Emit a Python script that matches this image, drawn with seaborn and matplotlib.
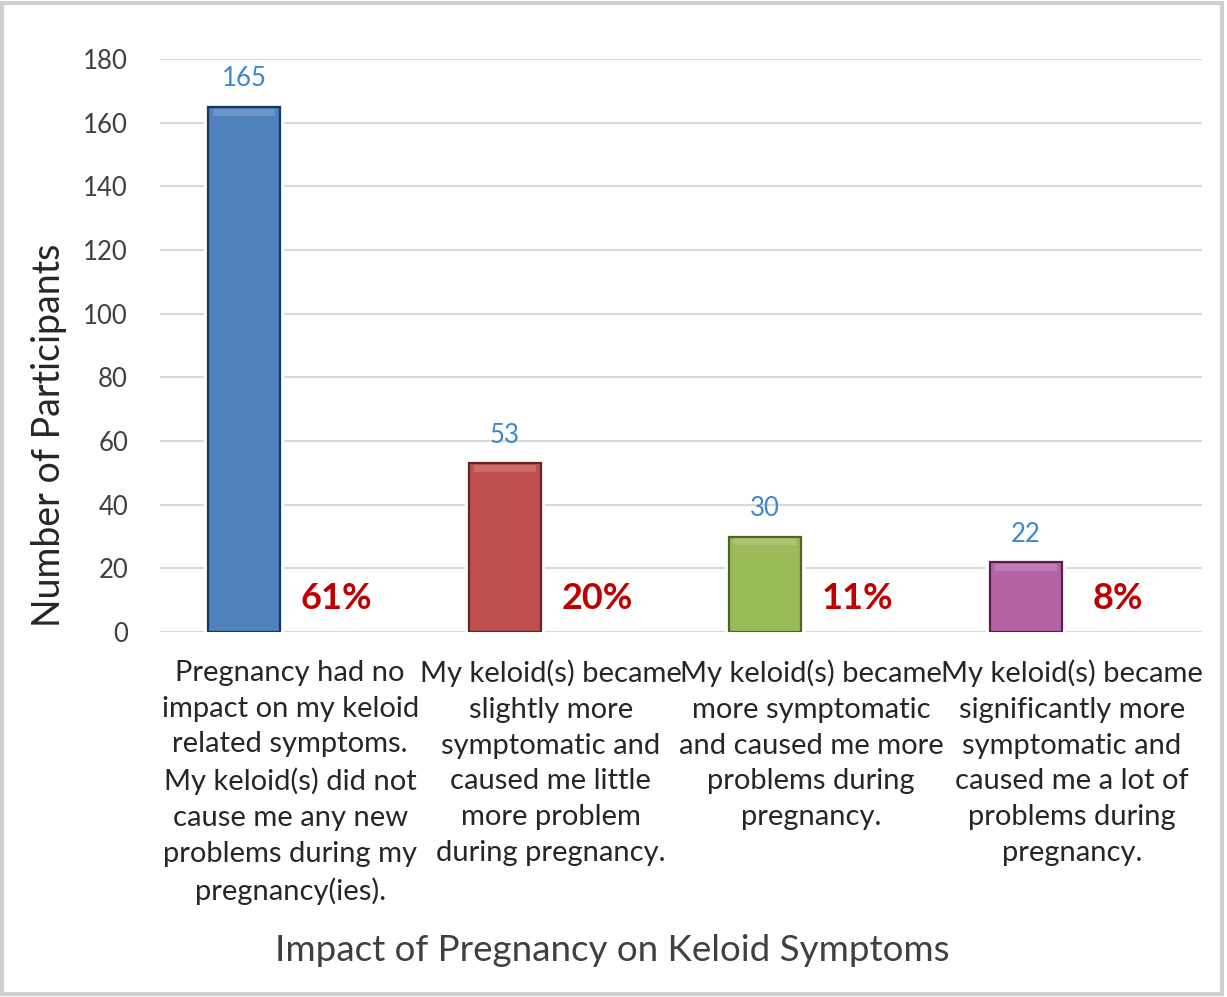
import matplotlib
matplotlib.use('Agg')
import seaborn as sns
import pandas as pd
import matplotlib.pyplot as plt
from matplotlib import patheffects as pe
from matplotlib.patches import Rectangle

# data
categories = [
    "Pregnancy had no\nimpact on my keloid\nrelated symptoms.\nMy keloid(s) did not\ncause me any new\nproblems during my\npregnancy(ies).",
    "My keloid(s) became\nslightly more\nsymptomatic and\ncaused me little\nmore problem\nduring pregnancy.",
    "My keloid(s) became\nmore symptomatic\nand caused me more\nproblems during\npregnancy.",
    "My keloid(s) became\nsignificantly more\nsymptomatic and\ncaused me a lot of\nproblems during\npregnancy.",
]
counts = [165, 53, 30, 22]
shares = ["61%", "20%", "11%", "8%"]

bar_colors = ["#4F81BD", "#C0504D", "#9BBB59", "#B464A5"]
edge_colors = ["#17375E", "#632523", "#4F6228", "#5A1F4E"]

sns.set_theme(style="white")
plt.rcParams['font.family'] = ['Lato', 'DejaVu Sans']

df = pd.DataFrame({
    'category': categories * 2,
    'series': ['count'] * 4 + ['share'] * 4,
    'value': counts + [float('nan')] * 4,
})

fig = plt.figure(figsize=(12.27, 9.97), dpi=100)
ax = fig.add_axes([0.1304, 0.366, 0.8492, 0.575])

sns.barplot(data=df, x='category', y='value', hue='series',
            hue_order=['count', 'share'], order=categories,
            width=0.708, gap=0.218, legend=False, ax=ax, zorder=3)

bars = ax.containers[0]
for p, fc, ec in zip(bars, bar_colors, edge_colors):
    p.set_facecolor(fc)
    p.set_edgecolor(ec)
    p.set_linewidth(1.6)
    p.set_path_effects([pe.Stroke(linewidth=6, foreground='white'), pe.Normal()])
    # lighter glossy band at the top of each bar
    x0, w, h = p.get_x(), p.get_width(), p.get_height()
    band = Rectangle((x0 + w * 0.07, h - 2.8), w * 0.86, 2.2,
                     facecolor='white', alpha=0.16, edgecolor='none', zorder=4)
    ax.add_patch(band)

step = 0.708 / 2
for p, n, s in zip(bars, counts, shares):
    cx = p.get_x() + p.get_width() / 2
    ax.text(cx, n + 8.8, str(n), ha='center', va='center',
            fontsize=18.5, color='#3A88D4')
    ax.text(cx + step, 10.5, s, ha='center', va='center',
            fontsize=26, fontweight='bold', color='#C00000')

ax.set_ylim(0, 180)
ax.set_xlim(-0.5, 3.5)
ax.set_yticks(range(0, 181, 20))
ax.yaxis.grid(True, color='#D9D9D9', linewidth=1.5, zorder=0)
ax.set_axisbelow(True)
for sp in ax.spines.values():
    sp.set_visible(False)

ax.tick_params(axis='y', length=0, pad=23, labelsize=18.5, labelcolor='#404040')
ax.tick_params(axis='x', length=0, pad=20, labelsize=21, labelcolor='#262626')
for t in ax.get_xticklabels():
    t.set_linespacing(1.46)
    t.set_va('top')

ax.set_ylabel("Number of Participants", fontsize=27, color='#262626')
ax.yaxis.set_label_coords(-0.089, 0.344)
ax.set_xlabel("Impact of Pregnancy on Keloid Symptoms", fontsize=26.5,
              color='#404040')
ax.xaxis.set_label_coords(0.434, -0.527)

fig.patches.append(Rectangle((0.002, 0.003), 0.994, 0.994, transform=fig.transFigure,
                             fill=False, edgecolor='#D0D0D0', linewidth=3))

fig.savefig('out.png', dpi=100, facecolor='white')
